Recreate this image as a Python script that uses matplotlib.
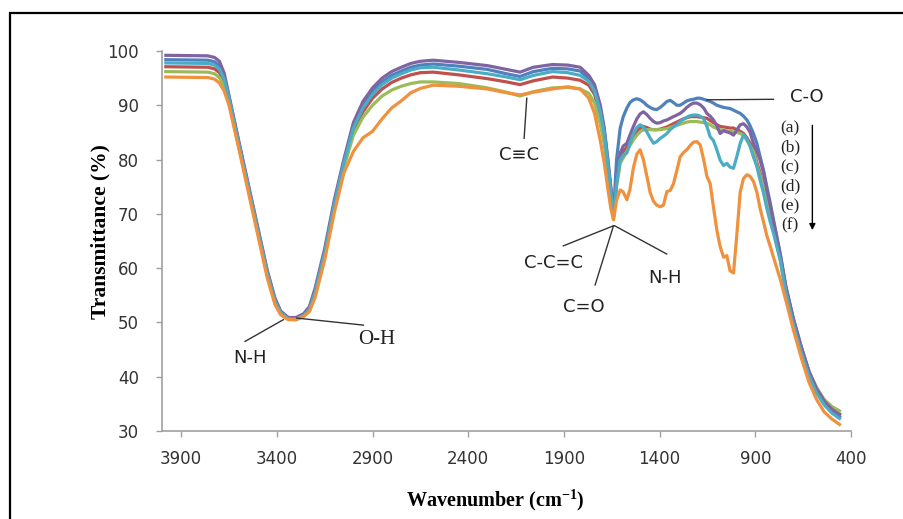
import matplotlib
matplotlib.use("Agg")
import matplotlib.pyplot as plt
from matplotlib.patches import Rectangle

# wavenumber grid (cm-1) shared by all six spectra
wavenumber = [3980, 3760, 3725, 3700, 3675, 3650,
              3600, 3550, 3500, 3450, 3410, 3380, 3340, 3300, 3260, 3230,
              3200, 3150, 3100, 3050, 3000, 2950, 2900, 2850, 2800, 2750,
              2700, 2650,
              2583, 2450, 2300, 2200, 2129, 2060, 1960, 1880, 1815,
              1770, 1740, 1710, 1690, 1670, 1655,
              1641, 1625, 1606, 1590, 1571, 1555, 1537, 1519, 1502, 1485,
              1467, 1450, 1432, 1415, 1397, 1380, 1362, 1345, 1328, 1310,
              1293, 1275, 1258, 1240, 1223, 1205, 1188, 1170, 1153, 1136,
              1119, 1101, 1084, 1066, 1049, 1032, 1014, 997, 979, 962,
              944, 927, 910, 892, 875, 857, 840, 822, 805, 770,
              740, 700, 660, 620, 580, 540, 500, 460]

# transmittance (%) per sample
t_blue = [98.4, 98.3, 98.0, 97.3, 95.3, 91.5,
          83.3, 75.3, 67.3, 59.3, 54.2, 51.9, 50.8, 50.8, 51.4, 52.6,
          55.9, 63.0, 72.0, 79.6, 86.2, 90.0, 92.5, 94.3, 95.5, 96.3,
          97.0, 97.4,
          97.6, 97.2, 96.6, 95.8, 95.3, 96.2, 96.8, 96.7, 96.3,
          94.9, 93.2, 89.4, 85.5, 79.5, 74.5,
          70.0, 80.0, 85.8, 87.9, 89.5, 90.5, 91.0, 91.2, 91.0, 90.6,
          90.0, 89.6, 89.3, 89.2, 89.6, 90.1, 90.7, 90.9, 90.5, 90.0,
          90.0, 90.4, 90.8, 91.0, 91.1, 91.3, 91.3, 91.1, 90.9, 90.7,
          90.4, 90.0, 89.8, 89.6, 89.5, 89.4, 89.1, 88.8, 88.5, 88.0,
          87.3, 86.2, 84.8, 83.0, 80.5, 78.0, 75.0, 72.0, 68.9, 62.7,
          56.5, 50.5, 45.5, 41.0, 37.5, 35.2, 33.6, 32.6]
t_red = [97.1, 97.0, 96.7, 96.0, 94.3, 91.0,
         82.9, 74.9, 66.9, 58.9, 53.9, 51.7, 50.6, 50.6, 51.2, 52.3,
         55.4, 62.5, 71.4, 79.0, 85.3, 88.8, 91.3, 93.0, 94.2, 95.0,
         95.6, 96.0,
         96.1, 95.6, 94.9, 94.3, 93.8, 94.5, 95.2, 95.0, 94.6,
         93.7, 92.0, 88.0, 84.3, 78.3, 73.5,
         69.5, 76.0, 80.5, 81.5, 82.3, 83.3, 84.2, 85.2, 85.8, 86.1,
         85.9, 85.6, 85.5, 85.5, 85.6, 85.8, 86.0, 86.3, 86.6, 86.9,
         87.2, 87.5, 87.7, 87.9, 87.9, 87.9, 87.8, 87.7, 87.6, 87.2,
         86.8, 86.4, 86.1, 86.0, 85.9, 85.8, 85.8, 85.5, 85.2, 84.8,
         84.0, 83.0, 81.8, 79.5, 77.5, 75.0, 72.5, 70.0, 67.5, 62.0,
         56.0, 50.0, 45.0, 40.8, 37.6, 35.4, 34.0, 33.1]
t_green = [96.2, 96.1, 95.8, 95.1, 93.5, 90.7,
           82.6, 74.6, 66.6, 58.6, 53.7, 51.6, 50.6, 50.5, 51.1, 52.1,
           55.1, 62.2, 71.0, 78.5, 84.5, 87.8, 90.0, 91.7, 92.8, 93.5,
           94.0, 94.3,
           94.3, 94.0, 93.2, 92.4, 91.7, 92.5, 93.2, 93.3, 93.0,
           92.2, 90.4, 86.5, 83.0, 77.5, 73.0,
           69.0, 75.0, 79.3, 80.3, 81.5, 82.6, 83.6, 84.5, 85.1, 85.5,
           85.5, 85.5, 85.5, 85.5, 85.5, 85.6, 85.7, 85.9, 86.1, 86.3,
           86.5, 86.7, 86.9, 87.0, 87.0, 87.0, 86.9, 86.8, 86.7, 86.4,
           86.0, 85.7, 85.5, 85.4, 85.3, 85.2, 85.1, 85.0, 84.8, 84.5,
           83.5, 82.5, 81.5, 79.0, 77.0, 75.0, 72.0, 69.5, 67.0, 61.5,
           55.5, 49.8, 45.0, 41.0, 38.0, 35.8, 34.5, 33.7]
t_purple = [99.2, 99.1, 98.8, 98.1, 95.9, 91.8,
            83.6, 75.6, 67.6, 59.6, 54.5, 52.1, 50.9, 50.9, 51.6, 52.9,
            56.3, 63.6, 72.5, 80.0, 86.8, 90.7, 93.2, 95.0, 96.2, 97.0,
            97.7, 98.1,
            98.3, 97.9, 97.3, 96.6, 96.1, 97.0, 97.5, 97.4, 97.0,
            95.5, 93.8, 90.0, 86.0, 80.0, 75.0,
            70.0, 76.0, 81.2, 82.5, 83.0, 84.5, 86.1, 87.5, 88.4, 88.8,
            88.3, 87.6, 87.0, 86.7, 86.8, 87.1, 87.3, 87.6, 87.9, 88.2,
            88.5, 89.0, 89.6, 90.1, 90.4, 90.4, 90.1, 89.5, 88.5, 88.0,
            87.3, 86.2, 84.8, 85.3, 85.1, 84.9, 84.5, 85.4, 86.4, 86.6,
            86.0, 85.0, 83.0, 81.5, 79.9, 77.5, 74.4, 71.5, 68.5, 62.5,
            56.5, 50.5, 45.5, 41.0, 37.8, 35.5, 34.0, 33.0]
t_aqua = [97.8, 97.7, 97.4, 96.7, 94.8, 91.3,
          83.1, 75.1, 67.1, 59.1, 54.0, 51.8, 50.7, 50.6, 51.3, 52.4,
          55.6, 62.8, 71.7, 79.3, 85.8, 89.5, 92.0, 93.8, 95.0, 95.8,
          96.5, 96.9,
          97.0, 96.5, 95.8, 95.2, 94.7, 95.5, 96.2, 96.0, 95.5,
          94.4, 92.6, 88.8, 85.0, 79.0, 74.0,
          69.5, 75.5, 79.9, 80.8, 81.2, 83.0, 84.8, 85.9, 86.4, 86.0,
          85.1, 84.0, 83.0, 83.3, 83.9, 84.3, 84.8, 85.5, 86.0, 86.4,
          87.0, 87.4, 87.8, 88.1, 88.2, 88.2, 88.0, 87.5, 86.1, 84.2,
          83.5, 81.8, 79.9, 78.9, 79.3, 78.6, 78.4, 80.5, 83.0, 84.5,
          83.8, 82.4, 80.5, 78.7, 76.2, 73.8, 71.0, 68.5, 66.4, 61.5,
          55.5, 49.5, 44.5, 40.2, 37.0, 34.8, 33.3, 32.3]
t_orange = [95.2, 95.1, 94.8, 94.1, 92.6, 90.0,
            82.2, 74.2, 66.2, 58.2, 53.3, 51.4, 50.5, 50.5, 51.1, 52.0,
            54.6, 61.5, 70.2, 77.5, 81.5, 84.0, 85.2, 87.5, 89.5, 90.8,
            92.3, 93.1,
            93.7, 93.5, 93.0, 92.3, 91.9, 92.4, 93.0, 93.4, 93.0,
            91.3, 88.5, 83.5, 79.5, 74.5, 71.0,
            68.9, 72.5, 74.4, 74.0, 72.6, 74.5, 78.5, 81.0, 81.8, 80.0,
            77.0, 74.0, 72.3, 71.6, 71.3, 71.6, 74.1, 74.3, 75.5, 78.0,
            80.5, 81.3, 81.8, 82.6, 83.2, 83.3, 82.7, 80.0, 76.9, 75.6,
            71.3, 67.0, 64.0, 62.0, 62.3, 59.5, 59.1, 66.0, 74.0, 76.5,
            77.2, 76.9, 76.0, 74.0, 71.0, 68.5, 66.0, 64.0, 62.0, 58.0,
            54.0, 48.5, 43.5, 39.0, 35.8, 33.5, 32.2, 31.2]

series = [t_blue, t_red, t_green, t_purple, t_aqua, t_orange]
colors = ['#4F81BD', '#C0504D', '#9BBB59', '#8064A2', '#4BACC6', '#F0913E']
for s in series:
    assert len(s) == len(wavenumber)

sample_labels = ['(a)', '(b)', '(c)', '(d)', '(e)', '(f)']
x_ticks = [3900, 3400, 2900, 2400, 1900, 1400, 900, 400]
y_ticks = [30, 40, 50, 60, 70, 80, 90, 100]

SANS = ['DejaVu Sans']
SERIF = ['Liberation Serif', 'DejaVu Serif']

fig = plt.figure(figsize=(9.04, 5.19), dpi=100)
ax = fig.add_axes([0.1792, 0.1696, 0.7622, 0.7322])

for s, c in zip(series, colors):
    ax.plot(wavenumber, s, color=c, lw=2.3, solid_joinstyle='round')

ax.set_xlim(4000, 400)
ax.set_ylim(30, 100)
ax.set_xticks(x_ticks)
ax.set_yticks(y_ticks)
ax.set_xticklabels([str(t) for t in x_ticks], family=SANS, fontsize=12, color='#333333')
ax.set_yticklabels([str(t) for t in y_ticks], family=SANS, fontsize=12, color='#333333')
ax.tick_params(axis='x', direction='out', length=4.5, width=1, color='#a0a0a0', pad=9)
ax.tick_params(axis='y', direction='out', length=4.5, width=1, color='#a0a0a0', pad=12)
for side in ['top', 'right']:
    ax.spines[side].set_visible(False)
for side in ['left', 'bottom']:
    ax.spines[side].set_color('#a0a0a0')
    ax.spines[side].set_linewidth(1.2)

# leader lines + group labels
line_kw = dict(color='#333333', lw=1.0, clip_on=False)
leaders = [((3366, 50.5), (3566, 46.5)),
           ((3296, 50.8), (2948, 49.5)),
           ((2094, 91.3), (2108, 83.9)),
           ((1641, 67.8), (1903, 64.1)),
           ((1641, 67.8), (1737, 56.9)),
           ((1635, 67.8), (1363, 62.6)),
           ((1153, 91.0), (805, 91.1))]
for (x1, y1), (x2, y2) in leaders:
    ax.plot([x1, x2], [y1, y2], **line_kw)

txt_kw = dict(ha='center', va='center', color='#222222', clip_on=False)
ax.text(3540, 43.5, 'N-H', family=SANS, fontsize=13, **txt_kw)
ax.text(2878, 46.8, 'O-H', family=SERIF, fontsize=15, **txt_kw)
ax.text(2132, 80.8, 'C≡C', family=SANS, fontsize=13, **txt_kw)
ax.text(1955, 61.0, 'C-C=C', family=SANS, fontsize=13, **txt_kw)
ax.text(1798, 52.9, 'C=O', family=SANS, fontsize=13, **txt_kw)
ax.text(1371, 58.2, 'N-H', family=SANS, fontsize=13, **txt_kw)
ax.text(631, 91.5, 'C-O', family=SANS, fontsize=13, **txt_kw)

for i, lab in enumerate(sample_labels):
    ax.text(718, 85.8 - i * 3.6, lab, family=SERIF, fontsize=12.5, **txt_kw)
ax.annotate('', xy=(602, 67.0), xytext=(602, 86.3),
            arrowprops=dict(arrowstyle='-|>', color='black', lw=1.0,
                            mutation_scale=9, shrinkA=0, shrinkB=0),
            annotation_clip=False)

fig.text(100 / 904, 1 - 232 / 519, 'Transmittance (%)', rotation=90,
         ha='center', va='center', family=SERIF, fontsize=15.5, fontweight='bold')
fig.text(495 / 904, 1 - 500 / 519, 'Wavenumber (cm$^{\\mathregular{-1}}$)',
         ha='center', va='center', family=SERIF, fontsize=14.5, fontweight='bold')

# outer frame of the figure (right and bottom edges run off the image)
fig.patches.append(Rectangle((10 / 904, -0.2), 1.5, 1.2 - 13 / 519, transform=fig.transFigure,
                             fill=False, edgecolor='black', lw=1.6))

fig.savefig('out.png', dpi=100)
